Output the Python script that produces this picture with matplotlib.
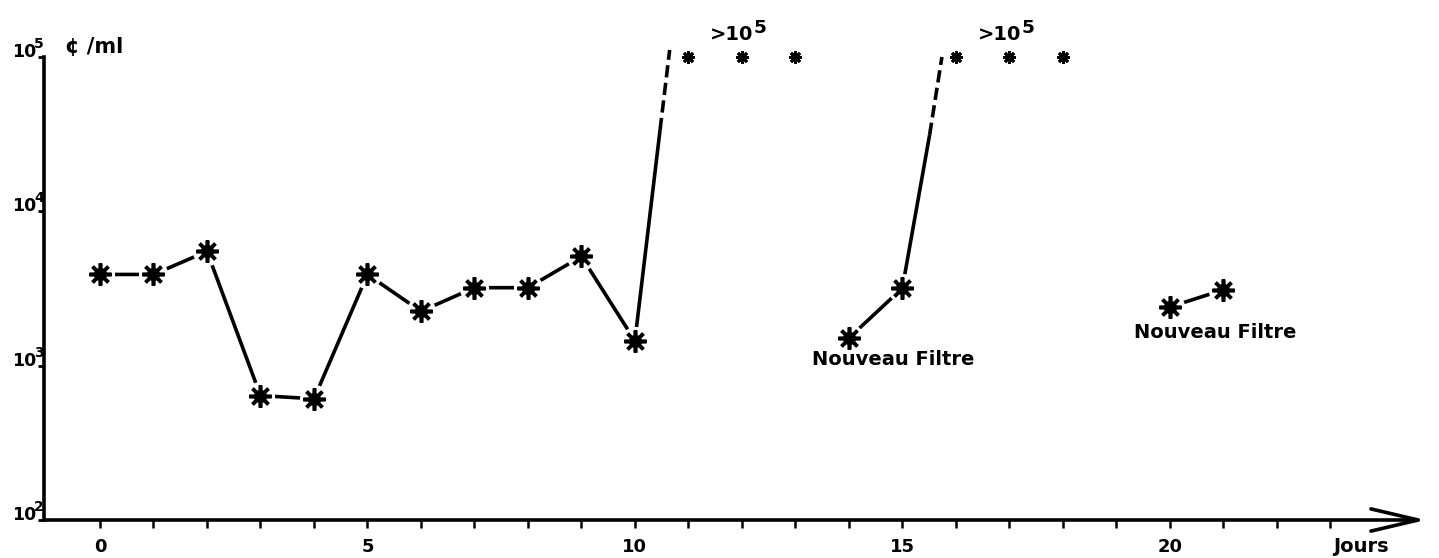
import matplotlib
matplotlib.use("Agg")
import matplotlib.pyplot as plt
import matplotlib.transforms as mtransforms
from matplotlib.patches import ArrowStyle
from matplotlib.ticker import NullLocator

plt.rcParams['font.family'] = ['DejaVu Sans']
plt.rcParams['font.weight'] = 'bold'

# first filter, days 0-10 (cells / ml)
days_a = [0, 1, 2, 3, 4, 5, 6, 7, 8, 9, 10]
cells_a = [3900, 3900, 5500, 640, 610, 3900, 2250, 3200, 3200, 5100, 1450]
# second filter, days 14-15
days_b = [14, 15]
cells_b = [1510, 3180]
# third filter, days 20-21
days_c = [20, 21]
cells_c = [2400, 3100]

# steep rises beyond the counting limit: solid part then dashed part
rise1_solid_x = [10, 10.47]
rise1_solid_y = [1450, 33600]
rise1_dash_x = [10.47, 10.65]
rise1_dash_y = [33600, 111000]
rise2_solid_x = [15, 15.51]
rise2_solid_y = [3180, 31300]
rise2_dash_x = [15.51, 15.74]
rise2_dash_y = [31300, 100000]

# counts over 10^5
over_days_1 = [11, 12, 13]
over_days_2 = [16, 17, 18]
over_level = 1e5

ytick_vals = [1e2, 1e3, 1e4, 1e5]
ytick_exps = ['2', '3', '4', '5']
xtick_vals = list(range(0, 24))
xtick_labels = [str(d) if d % 5 == 0 else '' for d in xtick_vals]

fig = plt.figure(figsize=(14.39, 5.58), dpi=100)
ax = fig.add_axes([44 / 1439, 38 / 558, 1382 / 1439, 463 / 558])
ax.set_yscale('log')
ax.set_ylim(1e2, 1e5)
ax.set_xlim(-1.047, 24.79)

lw = 2.6
dash = (0, (3.4, 1.5))

def stars(x, y, big=True):
    # white disc leaves a gap between the line and the asterisk
    if big:
        ax.plot(x, y, 'o', ms=21, color='white', mec='none', zorder=3, clip_on=False)
        ax.plot(x, y, marker=(8, 2, 0), ls='none', ms=16, mew=2.6, color='black', zorder=4, clip_on=False)
        ax.plot(x, y, 'o', ms=8.5, color='black', zorder=5, clip_on=False)
    else:
        ax.plot(x, y, marker=(8, 2, 0), ls='none', ms=9, mew=2.0, color='black', zorder=4, clip_on=False)
        ax.plot(x, y, 'o', ms=4.5, color='black', zorder=5, clip_on=False)

def power(x, y, base, exp, transform, size, ha='right', esize=0.95, shift=0.0, rise=0.6):
    # base with a big exponent raised above its right edge
    t = ax.text(x, y, base, transform=transform, fontsize=size, ha=ha, va='baseline', clip_on=False)
    fig.canvas.draw()
    bb = t.get_window_extent()
    ax.text(bb.x1 / fig.dpi + shift / 100, bb.y0 / fig.dpi + size * rise / 72, exp,
            transform=fig.dpi_scale_trans, fontsize=size * esize, ha='left', va='baseline')

for xs, ys in [(days_a, cells_a), (days_b, cells_b), (days_c, cells_c),
               (rise1_solid_x, rise1_solid_y), (rise2_solid_x, rise2_solid_y)]:
    ax.plot(xs, ys, color='black', lw=lw, zorder=2, solid_capstyle='butt', clip_on=False)
for xs, ys in [(rise1_dash_x, rise1_dash_y), (rise2_dash_x, rise2_dash_y)]:
    ax.plot(xs, ys, color='black', lw=lw, ls=dash, zorder=2, clip_on=False)

stars(days_a, cells_a)
stars(days_b, cells_b)
stars(days_c, cells_c)
stars(over_days_1, [over_level] * 3, big=False)
stars(over_days_2, [over_level] * 3, big=False)

# annotations
power(11.81, 1.28e5, '>10', '5', ax.transData, 14, ha='center')
power(16.82, 1.28e5, '>10', '5', ax.transData, 14, ha='center')
ax.text(14.82, 1.09e3, 'Nouveau Filtre', fontsize=14, ha='center', va='center')
ax.text(20.85, 1.65e3, 'Nouveau Filtre', fontsize=14, ha='center', va='center')
ax.text(-0.66, 1.16e5, '¢ /ml', fontsize=15, ha='left', va='center', clip_on=False)

# axes
for s in ['top', 'right', 'bottom']:
    ax.spines[s].set_visible(False)
ax.spines['left'].set_linewidth(2.6)
ax.spines['left'].set_capstyle('projecting')

ax.set_yticks(ytick_vals, labels=[''] * len(ytick_vals))
ax.yaxis.set_minor_locator(NullLocator())
ax.tick_params(axis='y', direction='out', length=4, width=2)
ylab_tr = mtransforms.blended_transform_factory(ax.transAxes, ax.transData) + \
    mtransforms.ScaledTranslation(-8 / 100, 0, fig.dpi_scale_trans)
for v, e in zip(ytick_vals, ytick_exps):
    power(0, v, '10', e, ylab_tr, 12.5, esize=0.8, shift=-2, rise=0.75)

ax.set_xticks(xtick_vals, labels=xtick_labels)
ax.tick_params(axis='x', direction='out', length=6, width=1.8, pad=7, labelsize=13)

blend = mtransforms.blended_transform_factory(ax.transData, ax.transAxes)
ax.text(23.57, -0.058, 'Jours', transform=blend, fontsize=14,
        ha='center', va='center', clip_on=False)

ax.annotate('', xy=(1, 0), xytext=(0, 0), xycoords='axes fraction', textcoords='axes fraction',
            arrowprops=dict(arrowstyle=ArrowStyle('->', head_length=3.4, head_width=0.8),
                            mutation_scale=10, lw=2.6, color='black', shrinkA=0, shrinkB=0),
            annotation_clip=False)

fig.savefig('out.png', dpi=100, facecolor='white')
